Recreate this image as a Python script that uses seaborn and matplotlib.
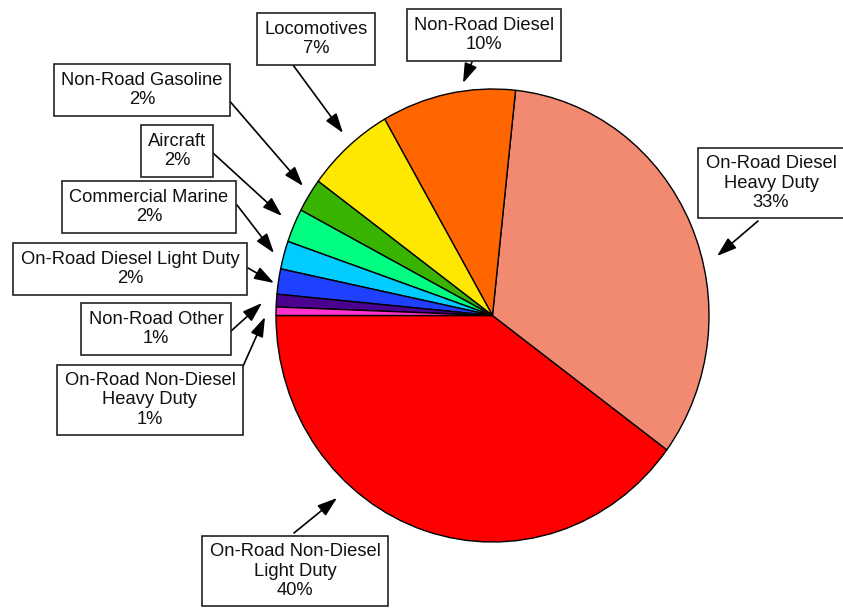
import seaborn as sns
import matplotlib.pyplot as plt

# emission sources, in pie order (counterclockwise from 9 o'clock)
labels = ['On-Road Non-Diesel\nLight Duty', 'On-Road Diesel\nHeavy Duty', 'Non-Road Diesel',
          'Locomotives', 'Non-Road Gasoline', 'Aircraft', 'Commercial Marine',
          'On-Road Diesel Light Duty', 'Non-Road Other', 'On-Road Non-Diesel\nHeavy Duty']
shares = [39.9, 33.4, 10.0, 6.6, 2.4, 2.4, 2.0, 1.8, 0.9, 0.6]
colors = ['#FF0000', '#F28A72', '#FF6600', '#FFE800', '#38B400',
          '#00FF80', '#00CCFF', '#2040FF', '#4B0090', '#FF33CC']

# label boxes (pixel coords, y down): box centre, arrow start, arrow tip
box_xy = [(295, 571), (771, 183), (484, 35), (316, 39), (142, 90),
          (177, 151), (149, 207), (130, 269), (156, 329), (150, 400)]
arrow_from = [(294, 533), (758, 221), (472, 62), (293, 65), (227, 98),
              (213, 153), (237, 205), (248, 268), (230, 332), (240, 373)]
arrow_to = [(337, 498), (717, 256), (463, 83), (343, 133), (303, 186),
            (282, 216), (274, 253), (274, 283), (262, 303), (265, 317)]

W, H = 843, 614
cx, cy, rx, ry = 492.5, 315.5, 216.5, 226.5

sns.set_style('white')
plt.rcParams['font.family'] = ['Liberation Sans', 'DejaVu Sans']

fig = plt.figure(figsize=(W / 100, H / 100), dpi=100)
ax = fig.add_axes([0, 0, 1, 1])
ax.pie(shares, colors=colors, startangle=180, counterclock=True,
       wedgeprops=dict(edgecolor='black', linewidth=1.0))
ax.set_aspect('auto')
ax.set_xlim(-cx / rx, (W - cx) / rx)
ax.set_ylim((cy - H) / ry, cy / ry)
ax.axis('off')

# overlay in pixel coordinates for boxes and arrows
ax2 = fig.add_axes([0, 0, 1, 1])
ax2.set_xlim(0, W)
ax2.set_ylim(H, 0)
ax2.axis('off')

for lab, v, (bx, by), a0, a1 in zip(labels, shares, box_xy, arrow_from, arrow_to):
    ax2.annotate('', xy=a1, xytext=a0,
                 arrowprops=dict(arrowstyle='-|>,head_length=0.6,head_width=0.2',
                                 mutation_scale=20, color='black', lw=1.2,
                                 shrinkA=0, shrinkB=0))
    ax2.text(bx, by, f'{lab}\n{v:.0f}%', ha='center', va='center',
             multialignment='center', fontsize=13.2, color='#111111',
             bbox=dict(boxstyle='square,pad=0.4', fc='white', ec='#222222', lw=1.2))

fig.savefig('out.png', dpi=100)
